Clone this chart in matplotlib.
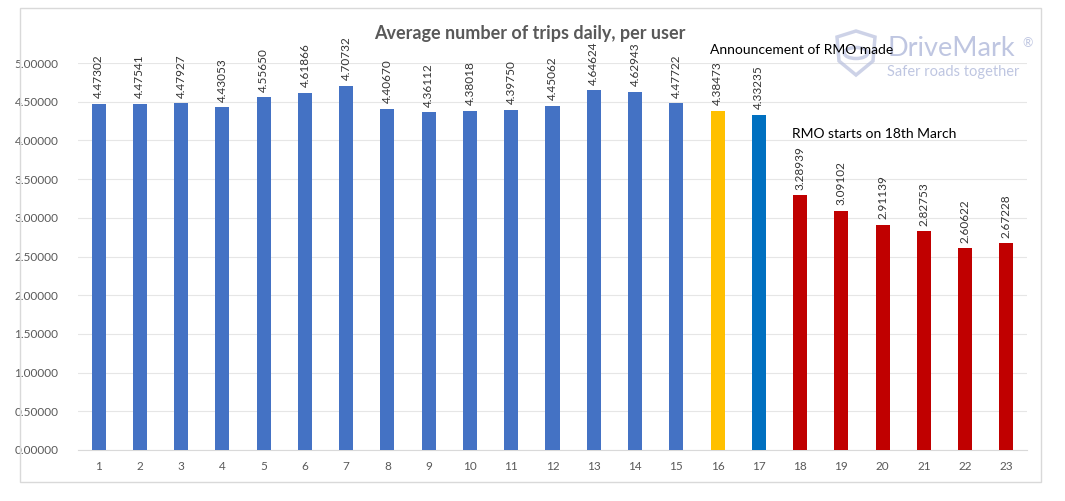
import matplotlib
matplotlib.use("Agg")
import matplotlib.pyplot as plt
from matplotlib.patches import Rectangle, Polygon, Circle
import numpy as np

categories = [str(i) for i in range(1, 24)]
values = [4.47302, 4.47541, 4.47927, 4.43053, 4.55650, 4.61866, 4.70732,
          4.40670, 4.36112, 4.38018, 4.39750, 4.45062, 4.64624, 4.62943,
          4.47722, 4.38473, 4.33235, 3.28939, 3.09102, 2.91139, 2.82753,
          2.60622, 2.67228]
colors = ["#4472C4"] * 15 + ["#FFC000", "#0070C0"] + ["#C00000"] * 6
yticks = [0.0, 0.5, 1.0, 1.5, 2.0, 2.5, 3.0, 3.5, 4.0, 4.5, 5.0]
title = "Average number of trips daily, per user"
ann1 = "Announcement of RMO made"
ann2 = "RMO starts on 18th March"

plt.rcParams['font.family'] = ['Lato', 'DejaVu Sans']

fig = plt.figure(figsize=(10.65, 5.01), dpi=100)
ax = fig.add_axes([78/1065, (501-450)/501, (1027-78)/1065, (450-63)/501])

x = np.arange(1, len(values) + 1)
ax.bar(x, values, width=0.34, color=colors, zorder=3)
for xi, v in zip(x, values):
    ax.annotate(f"{v:.5f}", (xi, v), xytext=(0, 4), textcoords="offset points",
                rotation=90, ha="center", va="bottom", fontsize=8.5, color="#333333")

ax.set_xlim(0.5, len(values) + 0.5)
ax.set_ylim(0, 5)
ax.set_yticks(yticks)
ax.set_yticklabels([f"{t:.5f}" for t in yticks])
ax.set_xticks(x)
ax.set_xticklabels(categories)
ax.tick_params(axis="both", length=0, labelsize=8.5, labelcolor="#595959")
ax.tick_params(axis="y", pad=14)
ax.tick_params(axis="x", pad=8)
ax.grid(axis="y", color="#E6E6E6", linewidth=0.8, zorder=0)
for s in ["top", "right", "left"]:
    ax.spines[s].set_visible(False)
ax.spines["bottom"].set_color("#D9D9D9")

# outer chart frame
fig.patches.append(Rectangle((20/1065, (501-482)/501), (1041-20)/1065, (482-8)/501,
                             transform=fig.transFigure, fill=False,
                             edgecolor="#D9D9D9", linewidth=1))

fig.text(530/1065, 1 - 34/501, title, ha="center", va="center", fontsize=13,
         fontweight="bold", color="#595959")
fig.text(710/1065, 1 - 50/501, ann1, ha="left", va="center", fontsize=10, color="black",
         zorder=11)
fig.text(792/1065, 1 - 134/501, ann2, ha="left", va="center", fontsize=10, color="black")

# watermark logo
wm = "#B8C0DE"
fig.text(888/1065, 1 - 48/501, "DriveMark", ha="left", va="center", fontsize=19.5,
         color=wm, alpha=0.9, zorder=10)
fig.text(1022/1065, 1 - 43/501, "®", ha="left", va="center", fontsize=9,
         color=wm, alpha=0.9)
fig.text(887/1065, 1 - 72/501, "Safer roads together", ha="left", va="center",
         fontsize=10.5, color=wm, alpha=0.9)
sx, sy = 856, 53
shield = [(sx - 19, 501 - (sy - 16)), (sx, 501 - (sy - 22)), (sx + 19, 501 - (sy - 16)),
          (sx + 17, 501 - (sy + 8)), (sx, 501 - (sy + 22)), (sx - 17, 501 - (sy + 8))]
fig.patches.append(Polygon([(a / 1065, b / 501) for a, b in shield], closed=True,
                           transform=fig.transFigure, fill=False, edgecolor=wm,
                           linewidth=2.5, alpha=0.7))
fig.patches.append(Circle((sx / 1065, (501 - sy) / 501), 0.011,
                          transform=fig.transFigure, fill=False, edgecolor=wm,
                          linewidth=2.5, alpha=0.7))

fig.savefig("out.png", dpi=100, facecolor="white")
